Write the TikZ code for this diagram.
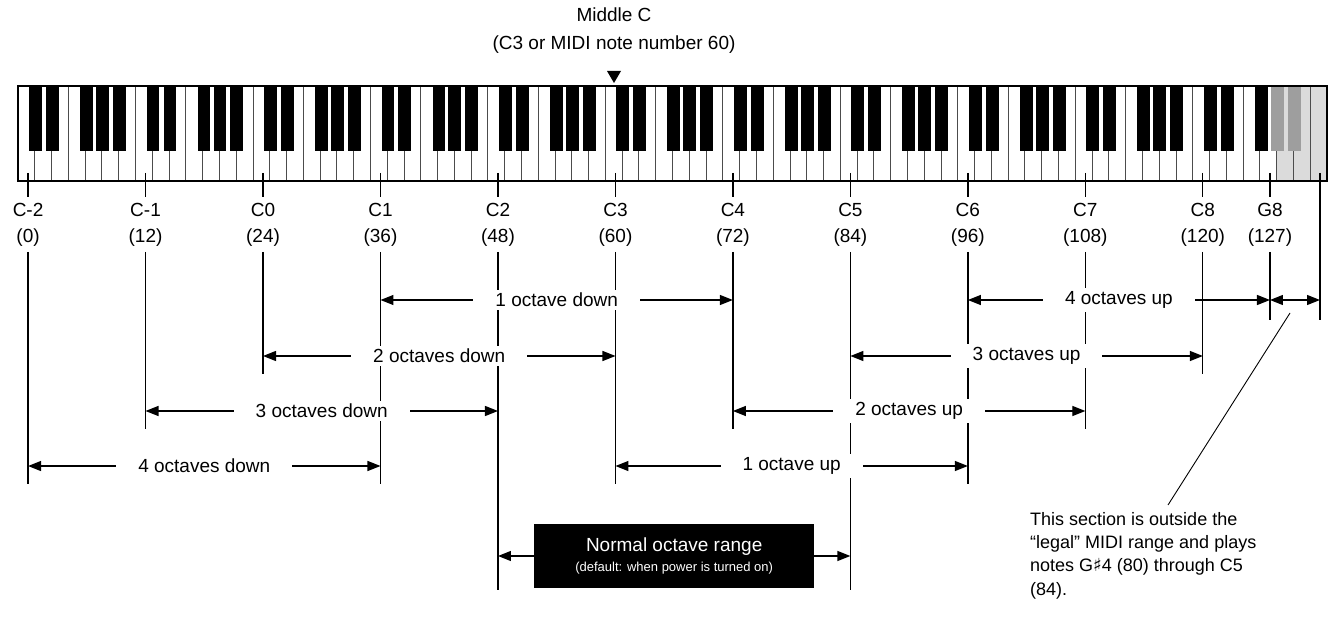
\documentclass[tikz,border=0pt]{standalone}
\usepackage{fontspec}
\setmainfont{Liberation Sans}
\newfontfamily\symfont{DejaVu Sans}
\usetikzlibrary{arrows.meta,positioning}
\begin{document}
\begin{tikzpicture}[x=1pt,y=-1pt,font=\fontsize{19}{26}\selectfont,
  dim/.style={{Triangle[length=13pt,width=10pt]}-{Triangle[length=13pt,width=10pt]},line width=1.3pt},
  lbl/.style={fill=white,inner xsep=22pt,inner ysep=3pt},
  guide/.style={line width=1.3pt},
  wkey/.style={draw=black!70,line width=0.9pt},
  bkey/.style={fill=black},
  gkey/.style={fill=black!38}]
\useasboundingbox (0,0) rectangle (1331,631);
\def\w{16.782}
% keyboard
\fill[black!14] (18+75*\w,86) rectangle (1327,181);
\foreach \i in {1,...,77} \draw[wkey] (18+\i*\w,86) -- (18+\i*\w,181);
\foreach \o in {0,...,9}
  \foreach \b in {0.66,1.67,3.7,4.65,5.66}
    \fill[bkey] (18+7*\o*\w+\b*\w,86) rectangle ++(0.77*\w,65);
\foreach \b in {0.66,1.67,3.7} \fill[bkey] (18+70*\w+\b*\w,86) rectangle ++(0.77*\w,65);
\foreach \b in {4.65,5.66} \fill[gkey] (18+70*\w+\b*\w,86) rectangle ++(0.77*\w,65);
\draw[line width=2pt] (18,86) rectangle (1327,181);
% middle C
\node (midc) at (614,15) {Middle C};
\node (midcn) at (614,45) {(C3 or MIDI note number 60)};
\fill (607,71) -- (621,71) -- (614,83) -- cycle;
% labels and guide lines
\foreach \n/\e in {0/484,1/429,2/374,3/484,4/590,5/484,6/429,7/590,8/484,9/429,10/374} {
  \pgfmathsetmacro{\x}{18+(7*\n+0.6)*\w}
  \pgfmathtruncatemacro{\c}{\n-2}
  \pgfmathtruncatemacro{\m}{12*\n}
  \draw[guide] (\x,173) -- (\x,197);
  \node[align=center] (lab\n) at (\x,225) {C\c\\(\m)};
  \coordinate (top\n) at (\x,252);
  \coordinate (bot\n) at (\x,\e);
  \draw[guide] (top\n) -- (bot\n);
}
\coordinate (g8x) at (18+74.6*\w,252);
\draw[guide] (18+74.6*\w,173) -- (18+74.6*\w,197);
\node[align=center] (labg8) at (18+74.6*\w,225) {G8\\(127)};
\draw[guide] (g8x) -- (18+74.6*\w,320);
\coordinate (endx) at (1320,173);
\draw[guide] (endx) -- (1320,320);
% rows
\coordinate (r1) at (0,300);
\coordinate (r2) at (0,356);
\coordinate (r3) at (0,411);
\coordinate (r4) at (0,466);
\coordinate (r5) at (0,556);
\draw[dim] (top3|-r1) -- node[lbl] {1 octave down} (top6|-r1);
\draw[dim] (top8|-r1) -- node[lbl] {4 octaves up} (g8x|-r1);
\draw[dim] (g8x|-r1) -- (endx|-r1);
\draw[dim] (top2|-r2) -- node[lbl] {2 octaves down} (top5|-r2);
\draw[dim] (top7|-r2) -- node[lbl] {3 octaves up} (top10|-r2);
\draw[dim] (top1|-r3) -- node[lbl] {3 octaves down} (top4|-r3);
\draw[dim] (top6|-r3) -- node[lbl] {2 octaves up} (top9|-r3);
\draw[dim] (top0|-r4) -- node[lbl] {4 octaves down} (top3|-r4);
\draw[dim] (top5|-r4) -- node[lbl] {1 octave up} (top8|-r4);
\draw[dim] (top4|-r5) -- node[fill=black,text=white,align=center,minimum width=280pt,minimum height=64pt,inner sep=2pt] (normal)
  {Normal octave range\\[-6pt]{\fontsize{13}{15}\selectfont(default: when power is turned on)}} (top7|-r5);
% note
\node[anchor=north west,align=left,inner sep=0pt,font=\fontsize{18}{23.3}\selectfont] (note) at (1030,512)
  {This section is outside the\\“legal” MIDI range and plays\\notes G{\symfont ♯}4 (80) through C5\\(84).};
\coordinate (notetip) at (1168,505);
\draw[line width=0.9pt] (1290,313) -- (notetip);
\end{tikzpicture}
\end{document}
